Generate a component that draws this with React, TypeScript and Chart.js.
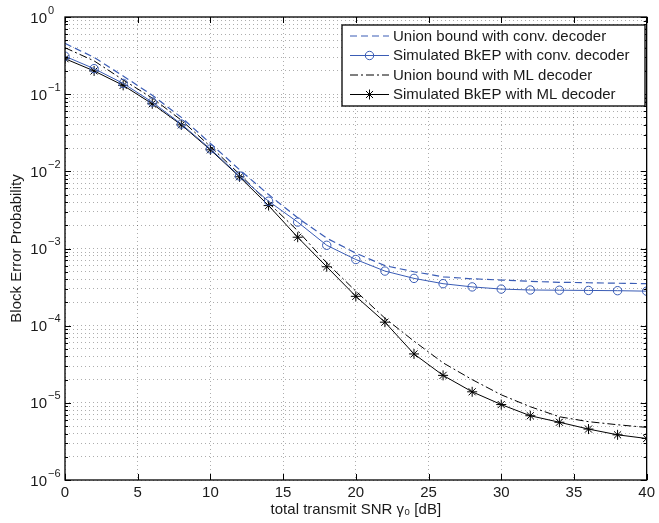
import React, { useEffect, useRef } from 'react';
import { Chart, registerables } from 'chart.js';

Chart.register(...registerables);

// ---------- data ----------
const snr = [0, 2, 4, 6, 8, 10, 12, 14, 16, 18, 20, 22, 24, 26, 28, 30, 32, 34, 36, 38, 40];
const unionConv = [0.455, 0.3, 0.172, 0.097, 0.05, 0.023, 0.0105, 0.005, 0.0025, 0.00136, 8.7e-4, 6.0e-4, 5.0e-4, 4.3e-4, 4.05e-4, 3.9e-4, 3.75e-4, 3.65e-4, 3.6e-4, 3.55e-4, 3.5e-4];
const simConv = [0.31, 0.214, 0.138, 0.079, 0.041, 0.0195, 0.0087, 0.0041, 0.0022, 0.0011, 7.2e-4, 5.1e-4, 4.1e-4, 3.5e-4, 3.18e-4, 2.98e-4, 2.9e-4, 2.88e-4, 2.86e-4, 2.84e-4, 2.8e-4];
const unionML = [0.4, 0.27, 0.153, 0.089, 0.046, 0.021, 0.0092, 0.0039, 0.0017, 6.5e-4, 2.8e-4, 1.25e-4, 6.3e-5, 3.3e-5, 2.0e-5, 1.27e-5, 8.9e-6, 6.6e-6, 5.7e-6, 5.2e-6, 4.8e-6];
const simML = [0.288, 0.2, 0.13, 0.075, 0.04, 0.019, 0.0085, 0.0036, 0.0014, 5.8e-4, 2.4e-4, 1.11e-4, 4.3e-5, 2.27e-5, 1.39e-5, 9.5e-6, 6.8e-6, 5.6e-6, 4.57e-6, 3.85e-6, 3.45e-6];

const seriesNames = [
  'Union bound with conv. decoder',
  'Simulated BkEP with conv. decoder',
  'Union bound with ML decoder',
  'Simulated BkEP with ML decoder',
];
const xTickValues = [0, 5, 10, 15, 20, 25, 30, 35, 40];
const yDecades = [-6, -5, -4, -3, -2, -1, 0];
const yTickBase = '10';
const yTickExponents = ['−6', '−5', '−4', '−3', '−2', '−1', '0'];
const xTitle = 'total transmit SNR γ₀ [dB]';
const yTitle = 'Block Error Probability';

// ---------- styles ----------
const BLUE = '#3a5cb5';
const FONT = '"Liberation Sans", Arial, Helvetica, sans-serif';
const GRID = 'rgba(0,0,0,0.32)';
const TEXT = '#1a1a1a';

const yTickValues: number[] = [];
yDecades.forEach((d) => {
  const maxM = d === 0 ? 1 : 9;
  for (let m = 1; m <= maxM; m++) yTickValues.push(m * Math.pow(10, d));
});

const isDecade = (v: number) => Math.abs(Math.log10(v) - Math.round(Math.log10(v))) < 1e-9;

function drawMarker(ctx: CanvasRenderingContext2D, style: string, x: number, y: number, r: number, color: string) {
  ctx.save();
  ctx.strokeStyle = color;
  ctx.lineWidth = 1;
  ctx.beginPath();
  if (style === 'circle') {
    ctx.arc(x, y, r, 0, Math.PI * 2);
  } else {
    for (let k = 0; k < 4; k++) {
      const ang = (k * Math.PI) / 4;
      ctx.moveTo(x - r * Math.cos(ang), y - r * Math.sin(ang));
      ctx.lineTo(x + r * Math.cos(ang), y + r * Math.sin(ang));
    }
  }
  ctx.stroke();
  ctx.restore();
}

const boxAndTicks = {
  id: 'boxAndTicks',
  afterDatasetsDraw(chart: any) {
    const { ctx, chartArea: a, scales } = chart;
    ctx.save();
    ctx.strokeStyle = '#000';
    ctx.lineWidth = 1;
    ctx.setLineDash([]);
    ctx.beginPath();
    xTickValues.forEach((v) => {
      const px = Math.round(scales.x.getPixelForValue(v)) + 0.5;
      ctx.moveTo(px, a.bottom);
      ctx.lineTo(px, a.bottom - 6);
      ctx.moveTo(px, a.top);
      ctx.lineTo(px, a.top + 6);
    });
    yTickValues.forEach((v) => {
      const py = Math.round(scales.y.getPixelForValue(v)) + 0.5;
      const len = isDecade(v) ? 6 : 3;
      ctx.moveTo(a.left, py);
      ctx.lineTo(a.left + len, py);
      ctx.moveTo(a.right, py);
      ctx.lineTo(a.right - len, py);
    });
    ctx.stroke();
    ctx.lineWidth = 1.3;
    ctx.strokeRect(a.left, a.top, a.right - a.left, a.bottom - a.top);

    // y tick labels: "10" with a raised exponent
    ctx.fillStyle = TEXT;
    ctx.textBaseline = 'alphabetic';
    yDecades.forEach((d, i) => {
      const py = scales.y.getPixelForValue(Math.pow(10, d));
      ctx.font = `15px ${FONT}`;
      ctx.textAlign = 'right';
      ctx.fillText(yTickBase, 47, py + 5.5);
      ctx.font = `11px ${FONT}`;
      ctx.textAlign = 'left';
      ctx.fillText(yTickExponents[i], 48, py - 3.5);
    });
    ctx.restore();
  },
};

const legendBox = {
  id: 'legendBox',
  afterDraw(chart: any) {
    const { ctx } = chart;
    const bx = 342, by = 25, bw = 303, bh = 81;
    ctx.save();
    ctx.fillStyle = '#fff';
    ctx.fillRect(bx, by, bw, bh);
    ctx.strokeStyle = '#000';
    ctx.lineWidth = 1.3;
    ctx.setLineDash([]);
    ctx.strokeRect(bx, by, bw, bh);
    const rows = [36, 55.5, 75, 94.5];
    const ds = chart.data.datasets;
    rows.forEach((ry, i) => {
      const d = ds[i];
      ctx.strokeStyle = d.borderColor;
      ctx.lineWidth = d.borderWidth;
      ctx.setLineDash(d.borderDash || []);
      ctx.beginPath();
      ctx.moveTo(350, ry);
      ctx.lineTo(389, ry);
      ctx.stroke();
      ctx.setLineDash([]);
      if (d.pointRadius > 0) {
        drawMarker(ctx, d.pointStyle, 369.5, ry, d.pointRadius, d.borderColor);
      }
      ctx.fillStyle = TEXT;
      ctx.font = `15px ${FONT}`;
      ctx.textBaseline = 'middle';
      ctx.textAlign = 'left';
      ctx.fillText(seriesNames[i], 393, ry + 0.5);
    });
    ctx.restore();
  },
};

export default function App() {
  const ref = useRef<HTMLCanvasElement | null>(null);

  useEffect(() => {
    if (!ref.current) return;
    const toXY = (arr: number[]) => snr.map((x, i) => ({ x, y: arr[i] }));
    const chart = new Chart(ref.current, {
      type: 'line',
      data: {
        datasets: [
          {
            label: seriesNames[0],
            data: toXY(unionConv),
            borderColor: BLUE,
            borderWidth: 1.2,
            borderDash: [7, 4],
            pointRadius: 0,
            fill: false,
          },
          {
            label: seriesNames[1],
            data: toXY(simConv),
            borderColor: BLUE,
            borderWidth: 1,
            pointStyle: 'circle',
            pointRadius: 4.2,
            pointBorderColor: BLUE,
            pointBackgroundColor: 'rgba(0,0,0,0)',
            pointBorderWidth: 1,
            fill: false,
          },
          {
            label: seriesNames[2],
            data: toXY(unionML),
            borderColor: '#000',
            borderWidth: 1,
            borderDash: [8, 3, 2, 3],
            pointRadius: 0,
            fill: false,
          },
          {
            label: seriesNames[3],
            data: toXY(simML),
            borderColor: '#000',
            borderWidth: 1,
            pointStyle: 'star',
            pointRadius: 5,
            pointBorderColor: '#000',
            pointBackgroundColor: '#000',
            pointBorderWidth: 1,
            fill: false,
          },
        ] as any,
      },
      options: {
        responsive: false,
        animation: false,
        events: [],
        layout: { padding: { left: 0, top: 17, right: 8, bottom: 0 } },
        plugins: {
          legend: { display: false },
          tooltip: { enabled: false },
        },
        scales: {
          x: {
            type: 'linear',
            min: 0,
            max: 40,
            afterBuildTicks: (scale: any) => {
              scale.ticks = xTickValues.map((v) => ({ value: v }));
            },
            afterFit: (scale: any) => {
              scale.height = 43;
            },
            ticks: {
              autoSkip: false,
              padding: 4,
              color: TEXT,
              font: { family: FONT, size: 15 },
              callback: (v: any) => String(v),
            },
            grid: { color: GRID, drawTicks: false, lineWidth: 1 },
            border: { display: false, dash: [1, 3] },
            title: {
              display: true,
              text: xTitle,
              color: TEXT,
              font: { family: FONT, size: 15 },
              padding: { top: 0, bottom: 4 },
            },
          },
          y: {
            type: 'logarithmic',
            min: 1e-6,
            max: 1,
            afterBuildTicks: (scale: any) => {
              scale.ticks = yTickValues.map((v) => ({ value: v }));
            },
            afterFit: (scale: any) => {
              scale.width = 65;
            },
            ticks: {
              display: false,
              autoSkip: false,
            },
            grid: { color: GRID, drawTicks: false, lineWidth: 1 },
            border: { display: false, dash: [1, 3] },
            title: {
              display: true,
              text: yTitle,
              color: TEXT,
              font: { family: FONT, size: 15 },
              padding: { top: 8, bottom: 0 },
            },
          },
        },
      },
      plugins: [boxAndTicks, legendBox],
    } as any);
    return () => chart.destroy();
  }, []);

  return (
    <div style={{ position: 'fixed', left: 0, top: 0, width: 659, height: 523, background: '#fff' }}>
      <canvas ref={ref} width={659} height={523} style={{ display: 'block' }} />
    </div>
  );
}
